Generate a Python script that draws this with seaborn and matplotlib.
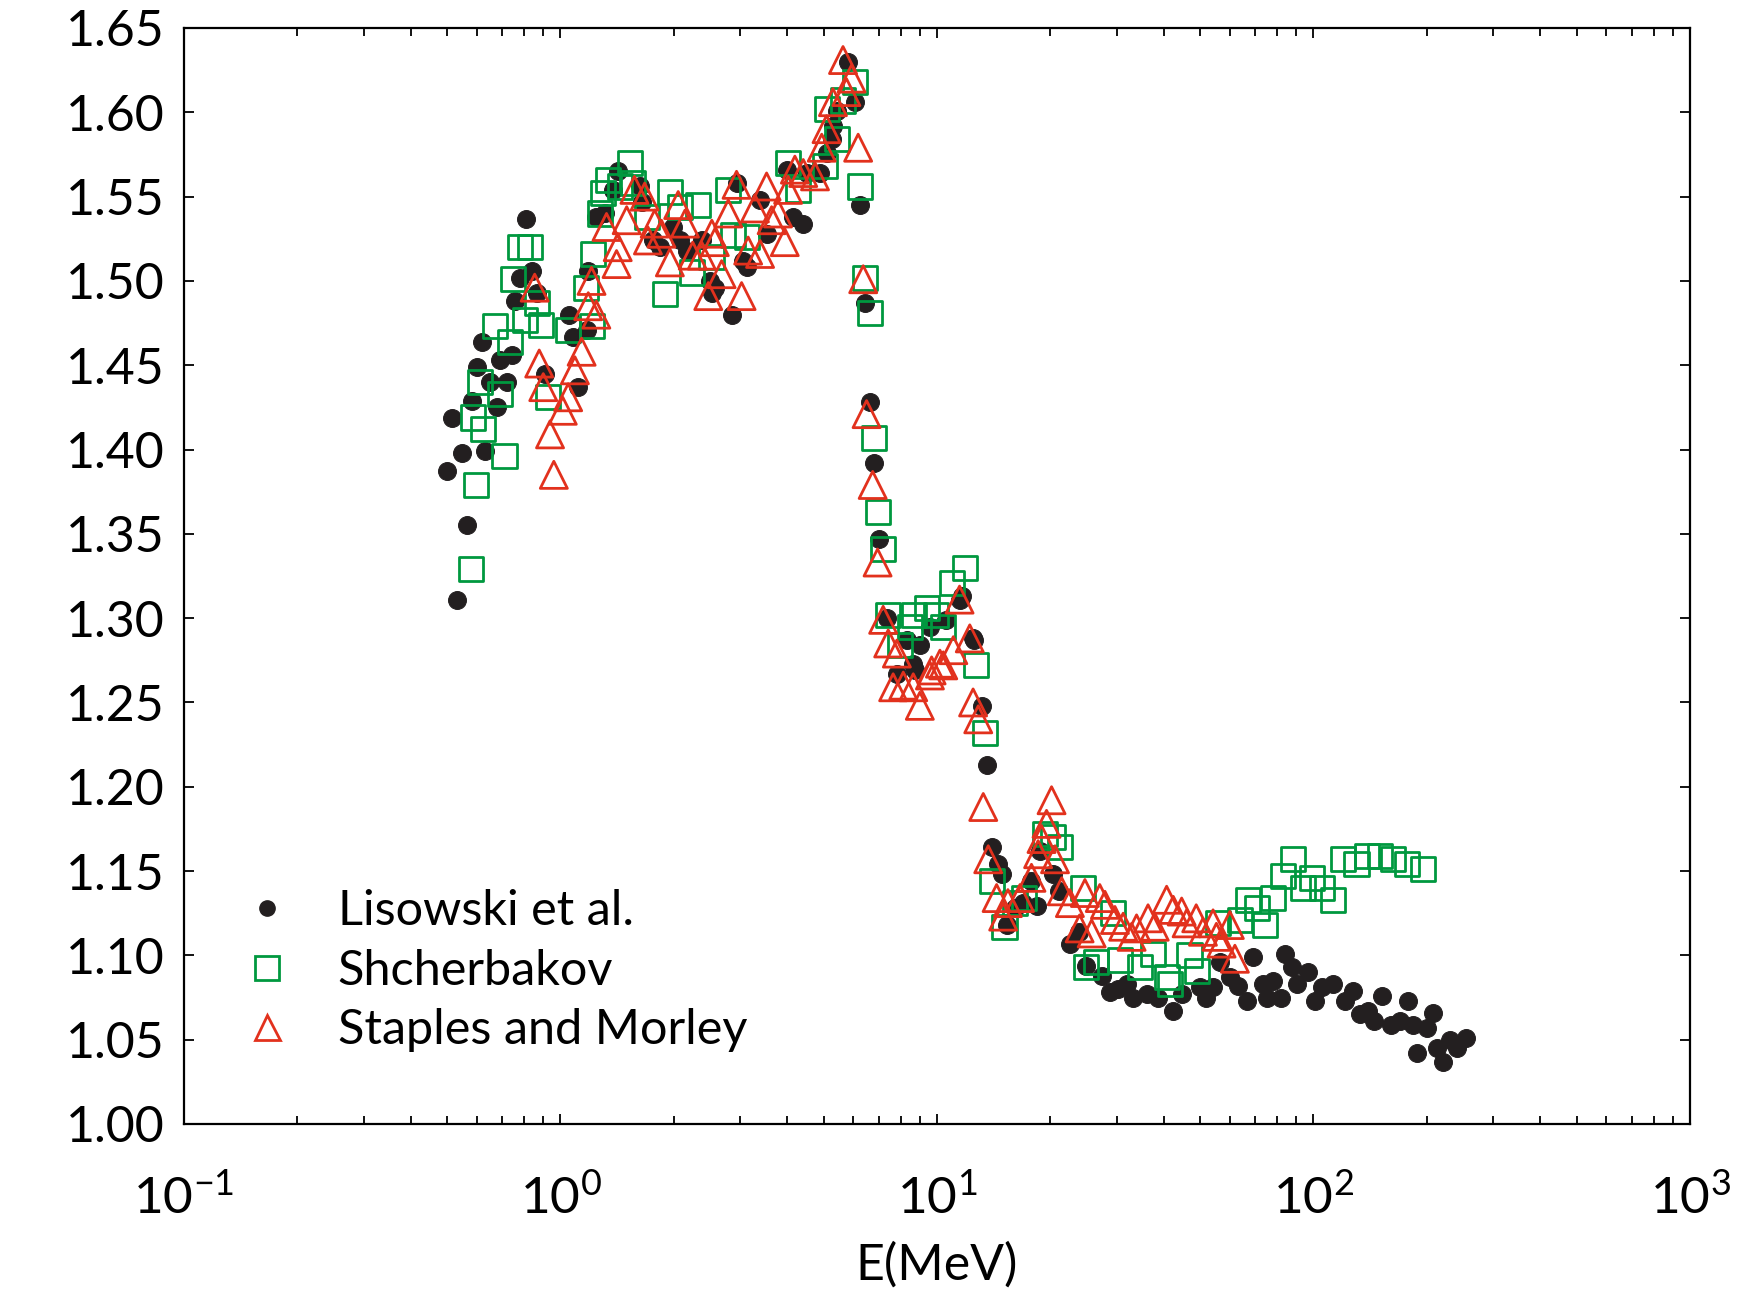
import matplotlib
matplotlib.use("Agg")
import matplotlib.pyplot as plt
import matplotlib.ticker as mticker
from matplotlib.lines import Line2D
import seaborn as sns
import pandas as pd

# ---------------- data (E in MeV, ratio) ----------------
lis_E = [0.500, 0.516, 0.532, 0.547, 0.566, 0.582, 0.601, 0.618, 0.632, 0.649,
         0.677, 0.691, 0.720, 0.742, 0.755, 0.780, 0.809, 0.839, 0.866, 0.908,
         1.056, 1.078, 1.112, 1.175, 1.183, 1.245, 1.312, 1.380, 1.419, 1.627,
         1.645, 1.761, 1.837, 1.985, 2.076, 2.166, 2.372, 2.489, 2.523, 2.570,
         2.853, 2.935, 3.121, 3.058, 3.389, 3.532, 3.995, 4.134, 4.398, 4.521,
         4.875, 5.097, 5.257, 5.292, 5.421, 6.053, 5.802, 6.239, 6.435, 6.637,
         6.799, 7.010, 7.355, 7.824, 8.306, 8.614, 8.730, 9.003, 9.577, 10.58,
         11.48, 11.62, 12.47, 12.56, 13.14, 13.54, 13.96, 14.50, 14.84, 17.82,
         18.77, 20.29, 18.38, 22.49, 24.93, 28.79, 31.89, 33.19, 36.03, 38.67,
         42.27, 44.65, 49.82, 51.91, 54.10, 56.36, 59.95, 62.90, 66.45, 69.06,
         73.45, 78.17, 75.07, 82.17, 83.88, 87.43, 90.16, 96.69, 100.9, 105.1,
         112.7, 121.2, 127.5, 132.8, 139.4, 145.2, 151.7, 160.9, 169.7, 178.4,
         183.4, 199.8, 207.5, 187.8, 212.3, 220.7, 229.9, 241.2, 254.8,
         15.32, 16.07, 16.87, 21.14, 23.76, 27.44, 30.20]
lis_R = [1.387, 1.419, 1.311, 1.398, 1.355, 1.429, 1.449, 1.464, 1.399, 1.440,
         1.425, 1.453, 1.440, 1.456, 1.488, 1.502, 1.537, 1.506, 1.493, 1.445,
         1.480, 1.467, 1.437, 1.471, 1.506, 1.538, 1.540, 1.554, 1.565, 1.556,
         1.547, 1.524, 1.520, 1.532, 1.524, 1.518, 1.524, 1.500, 1.493, 1.496,
         1.480, 1.558, 1.508, 1.512, 1.548, 1.528, 1.566, 1.538, 1.534, 1.564,
         1.564, 1.576, 1.584, 1.592, 1.601, 1.606, 1.630, 1.545, 1.487, 1.428,
         1.392, 1.347, 1.300, 1.267, 1.287, 1.273, 1.269, 1.284, 1.295, 1.299,
         1.311, 1.313, 1.288, 1.287, 1.248, 1.213, 1.164, 1.154, 1.148, 1.144,
         1.162, 1.148, 1.129, 1.107, 1.094, 1.078, 1.083, 1.075, 1.077, 1.075,
         1.067, 1.077, 1.081, 1.075, 1.081, 1.096, 1.087, 1.082, 1.073, 1.099,
         1.083, 1.085, 1.075, 1.075, 1.101, 1.093, 1.083, 1.090, 1.073, 1.081,
         1.083, 1.073, 1.079, 1.065, 1.067, 1.061, 1.076, 1.059, 1.061, 1.073,
         1.059, 1.057, 1.066, 1.042, 1.045, 1.037, 1.050, 1.045, 1.051,
         1.118, 1.128, 1.131, 1.138, 1.114, 1.088, 1.080]

shch_E = [0.586, 0.623, 0.669, 0.610, 0.735, 0.691, 0.748, 0.780, 0.829, 0.864,
          0.890, 0.803, 0.926, 1.048, 1.209, 1.171, 1.220, 1.271, 1.298, 1.339,
          1.530, 1.438, 1.560, 1.693, 1.892, 1.952, 2.076, 2.318, 2.230, 2.518,
          2.790, 2.874, 3.121, 4.023, 4.279, 5.045, 5.421, 5.097, 5.628, 6.053,
          6.239, 6.435, 6.637, 6.822, 6.982, 7.194, 7.405, 7.969, 8.472, 9.382,
          10.36, 10.93, 11.86, 12.73, 13.41, 13.96, 19.34, 20.29, 21.20, 24.42,
          29.38, 26.51, 24.93, 30.62, 34.59, 37.51, 40.73, 41.55, 46.84, 48.91,
          55.84, 63.78, 66.92, 70.63, 74.17, 78.17, 88.03, 83.06, 98.90, 93.63,
          105.1, 112.7, 119.8, 130.1, 138.4, 150.3, 162.7, 176.7, 195.0,
          0.578, 0.598, 0.710, 15.11, 16.07, 16.98, 8.67, 9.95]
shch_R = [1.419, 1.412, 1.473, 1.440, 1.464, 1.433, 1.501, 1.520, 1.520, 1.487,
          1.474, 1.477, 1.431, 1.471, 1.473, 1.496, 1.516, 1.540, 1.552, 1.560,
          1.570, 1.556, 1.558, 1.538, 1.492, 1.553, 1.544, 1.545, 1.505, 1.514,
          1.554, 1.527, 1.526, 1.570, 1.554, 1.568, 1.584, 1.602, 1.607, 1.618,
          1.556, 1.502, 1.481, 1.407, 1.363, 1.341, 1.302, 1.284, 1.295, 1.306,
          1.295, 1.321, 1.330, 1.272, 1.232, 1.144, 1.172, 1.170, 1.164, 1.140,
          1.125, 1.096, 1.093, 1.097, 1.093, 1.101, 1.087, 1.083, 1.100, 1.091,
          1.119, 1.121, 1.133, 1.128, 1.118, 1.134, 1.157, 1.147, 1.146, 1.140,
          1.140, 1.133, 1.157, 1.154, 1.159, 1.159, 1.157, 1.154, 1.151,
          1.329, 1.379, 1.396, 1.117, 1.131, 1.134, 1.302, 1.302]

stap_E = [0.854, 0.878, 0.900, 0.938, 0.960, 1.014, 1.048, 1.092, 1.138, 1.185,
          1.245, 1.209, 1.325, 1.409, 1.419, 1.499, 1.572, 1.673, 1.779, 1.707,
          1.854, 1.952, 2.054, 2.141, 2.245, 2.372, 2.523, 2.570, 2.679, 2.469,
          2.790, 2.935, 3.027, 3.151, 3.389, 3.284, 3.527, 3.637, 3.782, 3.941,
          4.023, 4.193, 4.413, 4.742, 4.941, 5.089, 5.292, 5.746, 5.930, 5.628,
          6.174, 6.368, 6.501, 6.748, 6.953, 7.194, 7.420, 7.824, 7.648, 8.136,
          8.648, 9.003, 9.577, 10.18, 11.05, 12.22, 11.48, 12.47, 12.87, 13.27,
          13.68, 9.676, 10.39, 20.15, 19.54, 18.95, 18.56, 20.58, 17.82, 16.61,
          15.43, 14.99, 14.40, 21.44, 22.54, 23.92, 24.71, 25.75, 27.06, 27.93,
          29.69, 31.22, 32.88, 33.89, 36.35, 37.87, 40.73, 42.42, 44.65, 46.02,
          48.81, 50.86, 54.10, 55.22, 59.95, 56.99, 61.83]
stap_R = [1.496, 1.451, 1.437, 1.409, 1.385, 1.423, 1.431, 1.447, 1.458, 1.485,
          1.480, 1.500, 1.532, 1.510, 1.520, 1.536, 1.554, 1.550, 1.534, 1.524,
          1.528, 1.511, 1.545, 1.534, 1.515, 1.515, 1.528, 1.523, 1.504, 1.491,
          1.540, 1.557, 1.491, 1.518, 1.516, 1.543, 1.556, 1.536, 1.540, 1.523,
          1.554, 1.566, 1.564, 1.562, 1.579, 1.590, 1.606, 1.612, 1.620, 1.631,
          1.579, 1.501, 1.421, 1.379, 1.333, 1.299, 1.285, 1.279, 1.259, 1.260,
          1.259, 1.248, 1.266, 1.273, 1.281, 1.288, 1.311, 1.250, 1.240, 1.188,
          1.157, 1.269, 1.272, 1.192, 1.178, 1.169, 1.160, 1.157, 1.146, 1.134,
          1.131, 1.123, 1.134, 1.138, 1.131, 1.116, 1.137, 1.113, 1.134, 1.130,
          1.121, 1.117, 1.111, 1.116, 1.122, 1.117, 1.133, 1.127, 1.126, 1.119,
          1.122, 1.114, 1.119, 1.111, 1.118, 1.107, 1.098]

labels = ["Lisowski et al.", "Shcherbakov", "Staples and Morley"]
yticks = [1.00, 1.05, 1.10, 1.15, 1.20, 1.25, 1.30, 1.35, 1.40, 1.45, 1.50, 1.55, 1.60, 1.65]
xlabel = "E(MeV)"

# ---------------- style ----------------
sns.set_style("ticks", rc={"text.color": "black", "axes.labelcolor": "black",
                           "xtick.color": "black", "ytick.color": "black",
                           "axes.edgecolor": "black"})
plt.rcParams["font.family"] = ["Lato", "DejaVu Sans"]
plt.rcParams["font.weight"] = "normal"
plt.rcParams["axes.labelweight"] = "normal"
plt.rcParams["mathtext.default"] = "regular"

BLACK = "#231f20"
GREEN = "#00983f"
RED = "#e2311d"

fig = plt.figure(figsize=(17.58, 13.0), dpi=100)
ax = fig.add_axes([184 / 1758, 1 - 1124 / 1300, 1506 / 1758, 1096 / 1300])

df_l = pd.DataFrame({"E": lis_E, "R": lis_R})
df_s = pd.DataFrame({"E": shch_E, "R": shch_R})
df_t = pd.DataFrame({"E": stap_E, "R": stap_R})

sns.scatterplot(data=df_l, x="E", y="R", ax=ax, marker="o", s=165,
                color=BLACK, edgecolor=BLACK, linewidth=0.8, zorder=3)
sns.scatterplot(data=df_s, x="E", y="R", ax=ax, marker="s", s=300,
                facecolor="none", edgecolor=GREEN, linewidth=2.0, zorder=4)
sns.scatterplot(data=df_t, x="E", y="R", ax=ax, marker="^", s=380,
                facecolor="none", edgecolor=RED, linewidth=2.0, zorder=5)

ax.set_xscale("log")
ax.set_xlim(0.1, 1000)
ax.set_ylim(1.0, 1.65)
ax.set_yticks(yticks)
ax.set_yticklabels([f"{v:.2f}" for v in yticks])
ax.xaxis.set_major_locator(mticker.LogLocator(base=10, numticks=10))
ax.xaxis.set_minor_locator(mticker.LogLocator(base=10, subs=range(2, 10), numticks=20))
ax.xaxis.set_minor_formatter(mticker.NullFormatter())

for s in ax.spines.values():
    s.set_visible(True)
    s.set_linewidth(1.6)
    s.set_color("black")

ax.tick_params(axis="both", which="both", direction="in", top=True, right=True,
               color="black", width=1.3, labelcolor="black")
ax.tick_params(axis="y", which="major", length=7, labelsize=36, pad=14)
ax.tick_params(axis="x", which="major", length=7, labelsize=37, pad=36)
ax.tick_params(axis="x", which="minor", length=6)

ax.set_xlabel(xlabel, fontsize=36, labelpad=14, color="black")
ax.set_ylabel("")

handles = [
    Line2D([], [], linestyle="none", marker="o", markersize=11,
           markerfacecolor=BLACK, markeredgecolor=BLACK),
    Line2D([], [], linestyle="none", marker="s", markersize=17,
           markerfacecolor="none", markeredgecolor=GREEN, markeredgewidth=2.0),
    Line2D([], [], linestyle="none", marker="^", markersize=18,
           markerfacecolor="none", markeredgecolor=RED, markeredgewidth=2.0),
]
leg = ax.legend(handles, labels, loc="center left", bbox_to_anchor=(0.039, 0.140),
                frameon=False, fontsize=35, handlelength=1.0, handletextpad=0.95,
                labelspacing=0.32, borderpad=0, borderaxespad=0)
for t in leg.get_texts():
    t.set_color("black")

fig.savefig("out.png", dpi=100)
